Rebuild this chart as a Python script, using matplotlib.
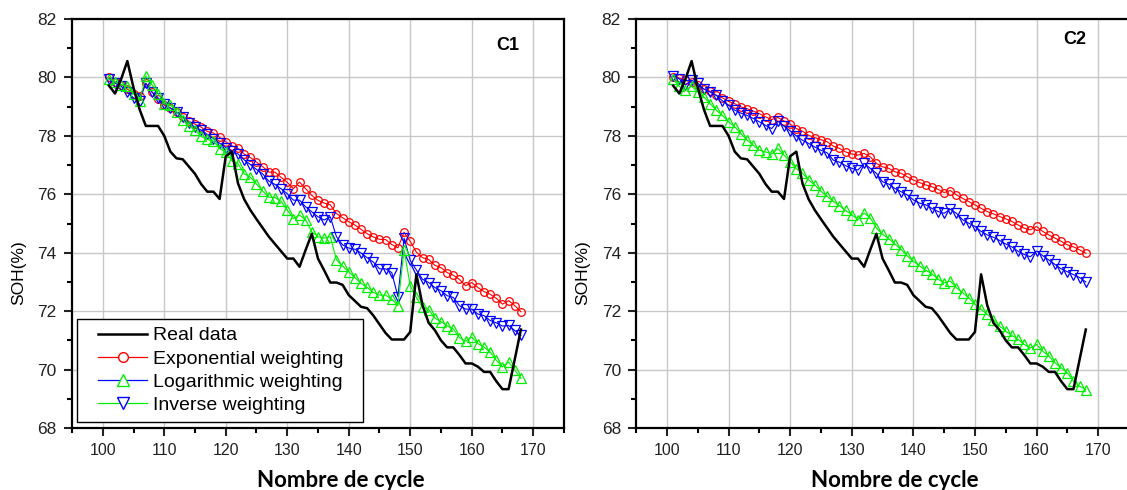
"""
SOH estimation vs cycle number for two cells (C1, C2).
Compares the measured SOH with three weighting schemes.
"""
import numpy as np
import matplotlib
matplotlib.use('Agg')  # no display
import matplotlib.pyplot as plt
from matplotlib.lines import Line2D
from matplotlib.legend_handler import HandlerLine2D
from matplotlib.ticker import MultipleLocator

plt.rcParams['font.family'] = ['Liberation Sans', 'DejaVu Sans']

# cycle numbers (x axis)
cycles = np.arange(101, 169)

# measured SOH, same curve on both panels
real_soh = [
    79.72, 79.45, 79.95, 80.56, 79.65, 78.90, 78.34, 78.34, 78.34, 78.00,  # 101-110
    77.46, 77.23, 77.20, 76.95, 76.70, 76.35, 76.09, 76.09, 75.84, 77.30,  # 111-120
    77.46, 76.37, 75.83, 75.46, 75.15, 74.85, 74.55, 74.30, 74.05, 73.80,  # 121-130
    73.80, 73.52, 74.10, 74.65, 73.80, 73.40, 72.98, 72.98, 72.90, 72.55,  # 131-140
    72.35, 72.15, 72.10, 71.85, 71.55, 71.25, 71.03, 71.03, 71.03, 71.29,  # 141-150
    73.26, 72.20, 71.60, 71.35, 71.00, 70.76, 70.76, 70.50, 70.21, 70.21,  # 151-160
    70.10, 69.92, 69.92, 69.60, 69.33, 69.33, 70.35, 71.37,                # 161-168
]

# C1 estimates
c1_exp = [
    80.00, 79.85, 79.75, 79.60, 79.45, 79.35, 79.80, 79.50, 79.25, 79.05,
    78.95, 78.80, 78.65, 78.50, 78.40, 78.30, 78.15, 78.10, 77.95, 77.80,
    77.66, 77.57, 77.38, 77.26, 77.10, 76.95, 76.76, 76.76, 76.58, 76.41,
    76.19, 76.42, 76.19, 75.96, 75.79, 75.70, 75.64, 75.34, 75.20, 75.06,
    74.95, 74.80, 74.65, 74.54, 74.46, 74.45, 74.28, 74.17, 74.70, 74.39,
    74.02, 73.83, 73.77, 73.57, 73.49, 73.32, 73.23, 73.09, 72.87, 72.98,
    72.81, 72.67, 72.58, 72.44, 72.24, 72.36, 72.19, 71.98,
]
c1_log = [
    79.95, 79.85, 79.75, 79.70, 79.45, 79.20, 80.05, 79.75, 79.45, 79.10,
    79.05, 78.83, 78.55, 78.33, 78.20, 77.98, 77.88, 77.82, 77.56, 77.45,
    77.15, 77.04, 76.70, 76.59, 76.35, 76.11, 75.90, 75.89, 75.76, 75.46,
    75.17, 75.29, 75.12, 74.72, 74.55, 74.50, 74.55, 73.76, 73.54, 73.35,
    73.15, 72.95, 72.81, 72.64, 72.55, 72.55, 72.41, 72.19, 74.10, 72.87,
    72.47, 72.13, 72.05, 71.76, 71.64, 71.50, 71.39, 71.09, 70.97, 71.11,
    70.89, 70.77, 70.60, 70.32, 70.09, 70.26, 69.98, 69.70,
]
c1_inv = [
    79.95, 79.80, 79.70, 79.50, 79.30, 79.20, 79.80, 79.50, 79.30, 79.10,
    78.95, 78.80, 78.65, 78.45, 78.30, 78.20, 78.05, 77.90, 77.75, 77.60,
    77.47, 77.38, 77.18, 77.02, 76.85, 76.70, 76.45, 76.34, 76.19, 76.02,
    75.80, 75.80, 75.57, 75.40, 75.23, 75.12, 75.23, 74.55, 74.27, 74.16,
    74.12, 73.99, 73.83, 73.68, 73.45, 73.45, 73.32, 72.50, 74.50, 73.74,
    73.41, 73.09, 72.98, 72.81, 72.70, 72.53, 72.47, 72.19, 72.07, 72.07,
    71.90, 71.85, 71.68, 71.60, 71.49, 71.51, 71.34, 71.17,
]

# C2 estimates
c2_exp = [
    80.03, 79.98, 79.90, 79.85, 79.73, 79.60, 79.53, 79.39, 79.30, 79.18,
    79.10, 78.99, 78.93, 78.85, 78.76, 78.65, 78.56, 78.63, 78.51, 78.40,
    78.25, 78.16, 78.02, 77.94, 77.87, 77.80, 77.65, 77.57, 77.45, 77.38,
    77.34, 77.40, 77.28, 77.06, 76.94, 76.89, 76.77, 76.72, 76.60, 76.49,
    76.40, 76.32, 76.26, 76.17, 76.06, 76.13, 75.98, 75.86, 75.75, 75.64,
    75.52, 75.41, 75.33, 75.24, 75.16, 75.07, 74.95, 74.84, 74.78, 74.90,
    74.73, 74.61, 74.50, 74.39, 74.27, 74.20, 74.10, 73.98,
]
c2_log = [
    79.93, 79.69, 79.56, 79.70, 79.50, 79.33, 79.10, 78.88, 78.70, 78.48,
    78.31, 78.08, 77.85, 77.68, 77.51, 77.45, 77.38, 77.57, 77.34, 77.11,
    76.88, 76.72, 76.49, 76.32, 76.10, 75.93, 75.76, 75.61, 75.45, 75.30,
    75.13, 75.36, 75.19, 74.85, 74.63, 74.48, 74.30, 74.11, 73.89, 73.71,
    73.55, 73.40, 73.28, 73.10, 72.97, 73.03, 72.80, 72.63, 72.46, 72.23,
    72.06, 71.89, 71.71, 71.49, 71.31, 71.17, 71.03, 70.86, 70.74, 70.86,
    70.63, 70.46, 70.23, 70.06, 69.89, 69.60, 69.43, 69.31,
]
c2_inv = [
    80.05, 79.95, 79.75, 79.90, 79.80, 79.60, 79.50, 79.39, 79.20, 79.05,
    78.88, 78.78, 78.70, 78.60, 78.48, 78.36, 78.25, 78.50, 78.33, 78.17,
    78.00, 77.85, 77.74, 77.62, 77.51, 77.42, 77.17, 77.10, 76.98, 76.89,
    76.83, 77.06, 76.89, 76.72, 76.43, 76.35, 76.20, 76.09, 75.98, 75.81,
    75.70, 75.64, 75.52, 75.41, 75.35, 75.49, 75.35, 75.13, 75.01, 74.90,
    74.73, 74.61, 74.53, 74.42, 74.30, 74.20, 74.05, 73.94, 73.86, 74.06,
    73.90, 73.75, 73.60, 73.45, 73.35, 73.25, 73.15, 73.00,
]

RED, GREEN, BLUE = '#ff0000', '#00f000', '#0000ff'


def style_axes(ax, tag, tag_pos):
    """Origin-like frame, ticks and grid."""
    ax.set_xlim(95, 175)
    ax.set_ylim(68, 82)
    ax.xaxis.set_major_locator(MultipleLocator(10))
    ax.xaxis.set_minor_locator(MultipleLocator(5))
    ax.yaxis.set_major_locator(MultipleLocator(2))
    ax.yaxis.set_minor_locator(MultipleLocator(1))
    ax.tick_params(which='major', direction='out', length=6, width=1.5, pad=5)
    ax.tick_params(which='minor', direction='out', length=3.5, width=1.5)
    ax.tick_params(axis='x', labelsize=11.5, colors='#222222')
    ax.tick_params(axis='y', labelsize=12.5, colors='#222222')
    for sp in ax.spines.values():
        sp.set_linewidth(1.6)
    ax.grid(True, which='major', color='#c8c8c8', linewidth=1.0)
    ax.set_axisbelow(True)

    ax.set_ylabel('SOH(%)', fontsize=12.5)
    ax.set_xlabel('Nombre de cycle', fontsize=16, fontweight='bold',
                  family='Lato')
    ax.text(tag_pos[0], tag_pos[1], tag, transform=ax.transAxes,
            fontsize=13, fontweight='bold', ha='center', va='center')


def plot_panel(ax, exp_vals, log_vals, inv_vals):
    """Draw the three estimates and the measured curve."""
    ax.plot(cycles, exp_vals, color=RED, lw=0.8, marker='o', ms=5.5,
            mfc='none', mec=RED, mew=0.9)
    ax.plot(cycles, inv_vals, color=BLUE, lw=0.8, marker='v', ms=6.5,
            mfc='none', mec=BLUE, mew=0.9)
    ax.plot(cycles, log_vals, color=GREEN, lw=0.8, marker='^', ms=6.5,
            mfc='none', mec=GREEN, mew=0.9)
    ax.plot(cycles, real_soh, color='black', lw=1.8)


fig = plt.figure(figsize=(11.27, 4.9), dpi=100)
ax1 = fig.add_axes([0.0639, 0.1265, 0.4365, 0.8347])
ax2 = fig.add_axes([0.5645, 0.1265, 0.4372, 0.8347])

plot_panel(ax1, c1_exp, c1_log, c1_inv)
plot_panel(ax2, c2_exp, c2_log, c2_inv)
style_axes(ax1, 'C1', (0.886, 0.936))
style_axes(ax2, 'C2', (0.891, 0.949))

for ax, xl in ((ax1, 0.547), (ax2, 0.525)):
    ax.xaxis.set_label_coords(xl, -0.102)
    ax.yaxis.set_label_coords(-0.093, 0.38)

# legend handles copied from the original figure (line/marker colours as shown)
handles = [
    Line2D([], [], color='black', lw=1.8),
    Line2D([], [], color=RED, lw=0.9, marker='o', ms=7, mfc='white', mec=RED),
    Line2D([], [], color=BLUE, lw=0.9, marker='^', ms=8, mfc='white', mec=GREEN),
    Line2D([], [], color=GREEN, lw=0.9, marker='v', ms=8, mfc='white', mec=BLUE),
]
labels = ['Real data', 'Exponential weighting', 'Logarithmic weighting',
          'Inverse weighting']
leg = ax1.legend(handles, labels, loc='lower left', mode='expand',
                 bbox_to_anchor=(0.0096, 0.0147, 0.582, 0.2),
                 borderaxespad=0, fontsize=14, frameon=True, fancybox=False,
                 framealpha=1, edgecolor='black', handlelength=3.2,
                 labelspacing=0.28, borderpad=0.43, handletextpad=0.28,
                 handler_map={Line2D: HandlerLine2D(xpad=0.65)})
leg.get_frame().set_linewidth(1.0)

fig.savefig('out.png', dpi=100)
plt.close(fig)
